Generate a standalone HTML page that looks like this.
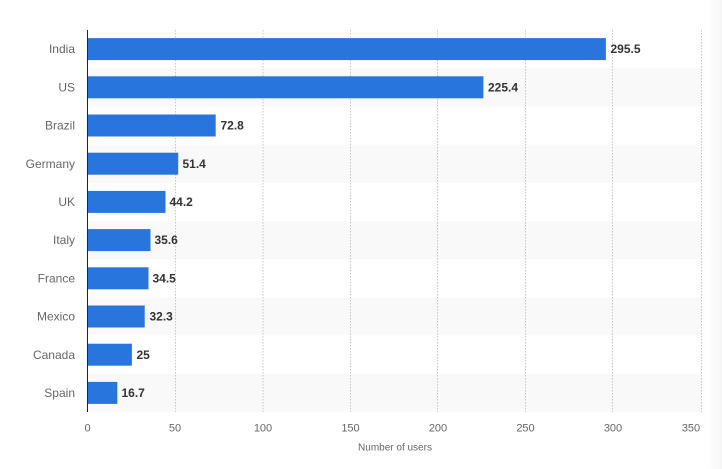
<!DOCTYPE html>
<html><head><meta charset="utf-8"><style>
html,body{margin:0;padding:0;background:#fff;}
svg{display:block;}
text{font-family:"Liberation Sans",sans-serif;}
</style></head><body>
<svg width="722" height="469" viewBox="0 0 722 469" xmlns="http://www.w3.org/2000/svg">
<defs><linearGradient id="rg" x1="0" x2="1"><stop offset="0" stop-color="#fff"/><stop offset="1" stop-color="#f6f6f6"/></linearGradient></defs>
<rect x="708" y="0" width="14" height="469" fill="url(#rg)"/>
<!-- bands -->
<g fill="#f9f9f9">
<rect x="88" y="68.2" width="613.5" height="38.2"/>
<rect x="88" y="144.6" width="613.5" height="38.2"/>
<rect x="88" y="221" width="613.5" height="38.2"/>
<rect x="88" y="297.4" width="613.5" height="38.2"/>
<rect x="88" y="373.8" width="613.5" height="38.2"/>
</g>
<!-- gridlines -->
<g stroke="#c8c8c8" stroke-width="1" stroke-dasharray="1.5,1.5">
<line x1="175.5" y1="30" x2="175.5" y2="412"/>
<line x1="263" y1="30" x2="263" y2="412"/>
<line x1="350.5" y1="30" x2="350.5" y2="412"/>
<line x1="437.5" y1="30" x2="437.5" y2="412"/>
<line x1="525.5" y1="30" x2="525.5" y2="412"/>
<line x1="612.5" y1="30" x2="612.5" y2="412"/>
<line x1="701.5" y1="30" x2="701.5" y2="412"/>
</g>
<!-- bars -->
<g fill="#2876dd">
<rect x="88" y="38.1" width="517.9" height="22"/>
<rect x="88" y="76.3" width="395.4" height="22"/>
<rect x="88" y="114.5" width="127.7" height="22"/>
<rect x="88" y="152.7" width="90.2" height="22"/>
<rect x="88" y="190.9" width="77.5" height="22"/>
<rect x="88" y="229.1" width="62.5" height="22"/>
<rect x="88" y="267.3" width="60.5" height="22"/>
<rect x="88" y="305.5" width="56.7" height="22"/>
<rect x="88" y="343.7" width="43.9" height="22"/>
<rect x="88" y="381.9" width="29.3" height="22"/>
</g>
<line x1="87.5" y1="30" x2="87.5" y2="412" stroke="#222" stroke-width="1"/>
<!-- category labels -->
<g font-size="12" fill="#666" text-anchor="end">
<text x="75" y="53.2">India</text>
<text x="75" y="91.4">US</text>
<text x="75" y="129.6">Brazil</text>
<text x="75" y="167.8">Germany</text>
<text x="75" y="206">UK</text>
<text x="75" y="244.2">Italy</text>
<text x="75" y="282.4">France</text>
<text x="75" y="320.6">Mexico</text>
<text x="75" y="358.8">Canada</text>
<text x="75" y="397">Spain</text>
</g>
<!-- value labels -->
<g font-size="12" font-weight="bold" fill="#333">
<text x="610.5" y="53.2">295.5</text>
<text x="488" y="91.4">225.4</text>
<text x="220.5" y="129.6">72.8</text>
<text x="182.5" y="167.8">51.4</text>
<text x="169.5" y="206">44.2</text>
<text x="154.5" y="244.2">35.6</text>
<text x="152.5" y="282.4">34.5</text>
<text x="149.5" y="320.6">32.3</text>
<text x="136.5" y="358.8">25</text>
<text x="121.5" y="397">16.7</text>
</g>
<!-- tick labels -->
<g font-size="11" fill="#666" text-anchor="middle">
<text x="87.5" y="431.5">0</text>
<text x="175" y="431.5">50</text>
<text x="263" y="431.5">100</text>
<text x="350.5" y="431.5">150</text>
<text x="438" y="431.5">200</text>
<text x="525.5" y="431.5">250</text>
<text x="613" y="431.5">300</text>
<text x="691" y="431.5">350</text>
</g>
<text x="395" y="450.5" font-size="10" fill="#666" text-anchor="middle">Number of users</text>
</svg>
</body></html>
